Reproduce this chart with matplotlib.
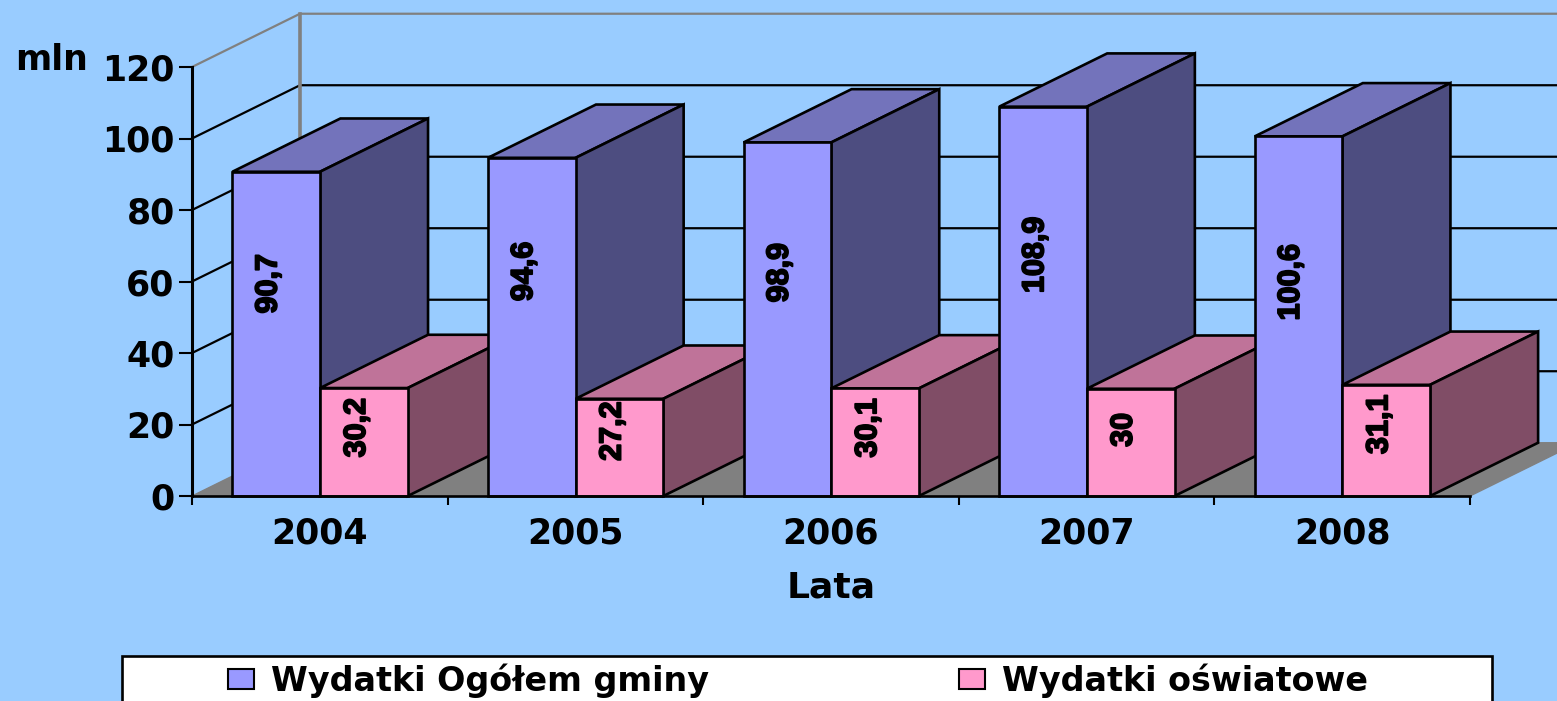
import matplotlib
matplotlib.use('Agg')
import matplotlib.pyplot as plt
import matplotlib.patheffects as pe
from matplotlib.patches import Patch, Rectangle

years = ['2004', '2005', '2006', '2007', '2008']
wydatki_ogolem = [90.7, 94.6, 98.9, 108.9, 100.6]
wydatki_oswiatowe = [30.2, 27.2, 30.1, 30, 31.1]
labels_ogolem = ['90,7', '94,6', '98,9', '108,9', '100,6']
labels_oswiatowe = ['30,2', '27,2', '30,1', '30', '31,1']
y_ticks = [0, 20, 40, 60, 80, 100, 120]

# label shift from mid-bar, in axis units (the original is not centred)
nudge_ogolem = [14, 15.5, 13, 13, 9.5]
nudge_oswiatowe = [4, 4.5, 4, 3.5, 4.5]

W, H = 1557, 701
BG = '#99CCFF'
PURPLE = ('#9999FF', '#7373BB', '#4D4D80')
PINK = ('#FF99CC', '#BF7399', '#804D66')

plt.rcParams['font.family'] = ['Liberation Sans']
plt.rcParams['font.weight'] = 'bold'
WIDE = ['DejaVu Sans']
heavy = [pe.withStroke(linewidth=1.3, foreground='black')]

fig = plt.figure(figsize=(W / 100, H / 100), dpi=100, facecolor=BG)
ax = fig.add_axes([192 / W, 1 - 496 / H, (1470 - 192) / W, (496 - 67) / H])
ax.patch.set_visible(False)

dx, dy = 0.4225, 14.9   # 3D depth, in axis units
bar_w = 0.343
gap = 0.158
edge = 1.9


def box(x, v, colors, z):
    ax.bar(x, v, bar_w, align='edge', color=colors[0], edgecolor='black', linewidth=edge,
           zorder=z + 0.2, clip_on=False)
    ax.fill([x, x + dx, x + bar_w + dx, x + bar_w], [v, v + dy, v + dy, v], facecolor=colors[1],
            edgecolor='black', linewidth=edge, zorder=z, clip_on=False)
    ax.fill([x + bar_w, x + bar_w + dx, x + bar_w + dx, x + bar_w], [0, dy, v + dy, v], facecolor=colors[2],
            edgecolor='black', linewidth=edge, zorder=z, clip_on=False)


# floor and walls
ax.fill([0, dx, 5 + dx, 5], [0, dy, dy, 0], color='#808080', zorder=1, clip_on=False)
for t in y_ticks[1:]:
    c = '#808080' if t == 120 else 'black'
    ax.plot([0, dx, 5 + dx], [t, t + dy, t + dy], color=c, lw=1.6, zorder=1.5, clip_on=False)
ax.plot([dx, dx], [dy, 120 + dy], color='#808080', lw=2.6, zorder=1.6, clip_on=False)

for i in range(len(years)):
    box(i + gap, wydatki_ogolem[i], PURPLE, 3 + i)
    box(i + gap + bar_w, wydatki_oswiatowe[i], PINK, 3.5 + i)
    ax.text(i + gap + bar_w / 2 - 0.03, wydatki_ogolem[i] / 2 + nudge_ogolem[i], labels_ogolem[i],
            rotation=90, ha='center', va='center', fontsize=22, zorder=50, path_effects=heavy)
    ax.text(i + gap + bar_w * 1.5 - 0.027, wydatki_oswiatowe[i] / 2 + nudge_oswiatowe[i], labels_oswiatowe[i],
            rotation=90, ha='center', va='center', fontsize=22, zorder=50, path_effects=heavy)

ax.set_xlim(0, 5)
ax.set_ylim(0, 120)
for s in ['top', 'right']:
    ax.spines[s].set_visible(False)
ax.spines['left'].set_linewidth(2.2)
ax.spines['bottom'].set_linewidth(1.9)
ax.spines['left'].set_zorder(40)
ax.spines['bottom'].set_zorder(40)

ax.set_yticks(y_ticks)
ax.set_yticklabels(y_ticks, family=WIDE, fontweight='bold', fontsize=25)
ax.tick_params(axis='y', length=9.5, width=1.5, pad=3)
ax.set_xticks(range(6))
ax.set_xticklabels([])
ax.tick_params(axis='x', which='major', length=6.5, width=1.5)
ax.set_xticks([i + 0.5 for i in range(5)], minor=True)
ax.set_xticklabels(years, minor=True, family=WIDE, fontweight='bold', fontsize=25)
ax.tick_params(axis='x', which='minor', length=0, pad=14.5)
ax.set_xlabel('Lata', family=WIDE, fontweight='bold', fontsize=26, labelpad=15)

fig.text(52 / W, 1 - 60 / H, 'mln', family=WIDE, fontweight='bold', fontsize=25, ha='center', va='center')

# legend box runs off the bottom of the picture
fig.add_artist(Rectangle((122 / W, -0.02), (1492 - 122) / W, (701 - 656) / H + 0.02, transform=fig.transFigure,
                         facecolor='white', edgecolor='black', linewidth=1.9, zorder=5))
handles = [Patch(facecolor=PURPLE[0], edgecolor='black', linewidth=1.5),
           Patch(facecolor=PINK[0], edgecolor='black', linewidth=1.5)]
leg = fig.legend(handles, ['Wydatki Ogółem gminy', 'Wydatki oświatowe'], ncol=2, mode='expand',
                 loc='lower left', bbox_to_anchor=(228 / W, 1 - 698 / H, (1368 - 228) / W, 45 / H),
                 frameon=False, borderpad=0, borderaxespad=0, handlelength=0.78, handleheight=0.55,
                 handletextpad=0.5, prop={'family': WIDE, 'weight': 'bold', 'size': 24})
leg.set_zorder(6)

fig.savefig('out.png', dpi=100, facecolor=BG)
